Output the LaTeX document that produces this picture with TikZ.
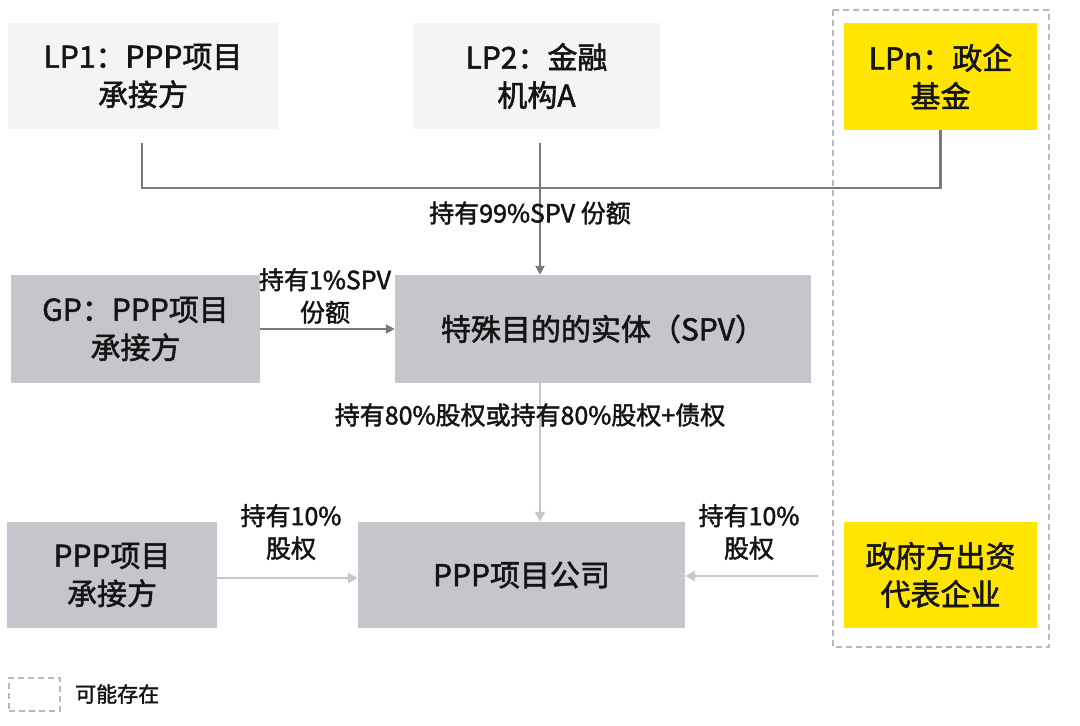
\documentclass[tikz,border=0pt]{standalone}
\usepackage{fontspec}
\setmainfont{Noto Sans CJK SC}[FakeBold=1.8]
\usetikzlibrary{arrows.meta}
\definecolor{lightbox}{HTML}{F4F4F6}
\definecolor{graybox}{HTML}{C5C5CC}
\definecolor{ybox}{HTML}{FFE500}
\definecolor{dkline}{HTML}{7A7A7A}
\definecolor{ltline}{HTML}{C8C8C8}
\definecolor{dashc}{HTML}{B8B8B8}
\definecolor{txt}{HTML}{141414}
\tikzset{
  boxbase/.style={inner sep=0pt, align=center, text=txt, font=\fontsize{30}{38}\selectfont},
  lpbox/.style={boxbase, fill=lightbox},
  gbox/.style={boxbase, fill=graybox},
  ybx/.style={boxbase, fill=ybox},
  lbl/.style={inner sep=0pt, align=center, text=txt, font=\fontsize{25}{32.5}\selectfont},
  dk/.style={draw=dkline, line width=2.2pt},
  lt/.style={draw=ltline, line width=2.8pt},
  tipdk/.style={-{Triangle[length=9pt,width=9pt]}},
  tiplt/.style={-{Triangle[length=10pt,width=10pt]}},
  dsh/.style={draw=dashc, line width=1.5pt, dash pattern=on 6pt off 4pt}
}
\begin{document}
\begin{tikzpicture}[x=1pt,y=-1pt]
\useasboundingbox[fill=white] (0,0) rectangle (1080,726);
% dashed "possible" region
\draw[dsh] (833,10) rectangle (1049,647);
% top row
\node[lpbox, minimum width=270pt, minimum height=106pt] (lp1) at (143,76) {LP1：PPP项目\\承接方};
\node[lpbox, minimum width=247pt, minimum height=106pt] (lp2) at (536.5,76) {LP2：金融\\机构A};
\node[ybx, minimum width=193pt, minimum height=107pt] (lpn) at (940.5,76.5) {LPn：政企\\基金};
% middle row
\node[gbox, minimum width=249pt, minimum height=108pt] (gp) at (135.5,329) {GP：PPP项目\\承接方};
\node[gbox, minimum width=416pt, minimum height=108pt] (spv) at (603,329) {特殊目的的实体（SPV）};
% bottom row
\node[gbox, minimum width=210pt, minimum height=106pt] (pc) at (112,575) {PPP项目\\承接方};
\node[gbox, minimum width=327pt, minimum height=106pt] (co) at (521.5,575) {PPP项目公司};
\node[ybx, minimum width=193pt, minimum height=106pt] (gov) at (940.5,575) {政府方出资\\代表企业};
% connectors top
\coordinate (lp1b) at (142,143);
\coordinate (lp2b) at (540,143);
\coordinate (j2) at (540,188);
\draw[dk] (lp1b) -- (lp1b |- j2) -- (lpn.south |- j2) -- (lpn.south);
\draw[dk] (lp2b) -- (j2);
\draw[dk, tipdk] (j2) -- (spv.north -| j2);
\node[lbl] (l99) at (530,213) {持有99\%SPV 份额};
% GP -> SPV
\draw[dk, tipdk] (gp.east) -- (spv.west);
\node[lbl] (l1) at (325,296) {持有1\%SPV\\份额};
% SPV -> company
\draw[lt, tiplt] (spv.south -| j2) -- (co.north -| j2);
\node[lbl] (l80) at (530,415) {持有80\%股权或持有80\%股权+债权};
% bottom arrows
\draw[lt, tiplt] (pc.east |- 0,578) -- (co.west |- 0,578);
\node[lbl] (l10a) at (291,532) {持有10\%\\股权};
\coordinate (gs) at (818,576);
\draw[lt, tiplt] (gs) -- (co.east |- gs);
\node[lbl] (l10b) at (749,532) {持有10\%\\股权};
% legend
\node[dsh, minimum width=51pt, minimum height=33pt, inner sep=0pt] (leg) at (34.5,694.5) {};
\node[lbl, anchor=west, font=\fontsize{21}{24}\selectfont] (legt) at (75,694) {可能存在};
\end{tikzpicture}
\end{document}
